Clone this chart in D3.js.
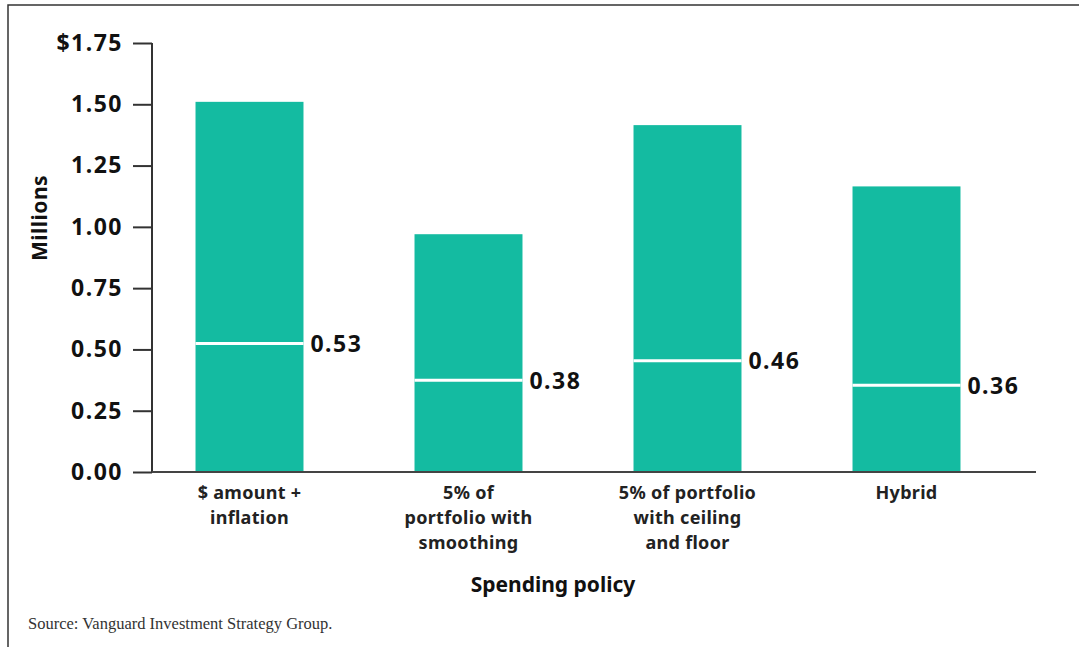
<!DOCTYPE html>
<html>
<head>
<meta charset="utf-8">
<title>Spending policy</title>
<style>
body { margin: 0; background: #fff; }
svg { display: block; }
</style>
</head>
<body>
<div id="chart"></div>
<script src="https://d3js.org/d3.v7.min.js"></script>
<script>
// data
var categories = [["$ amount +", "inflation"], ["5% of", "portfolio with", "smoothing"], ["5% of portfolio", "with ceiling", "and floor"], ["Hybrid"]];
var topValues = [1.51, 0.97, 1.415, 1.165];
var medianValues = [0.53, 0.38, 0.46, 0.36];
var yTicks = [0, 0.25, 0.5, 0.75, 1.0, 1.25, 1.5, 1.75];

var W = 1079, H = 647;
var svg = d3.select("#chart").append("svg").attr("width", W).attr("height", H);

// frame (top and left edges)
svg.append("path")
  .attr("d", "M8,647V5H1079")
  .attr("fill", "none")
  .attr("stroke", "#333")
  .attr("stroke-width", 1.5);

var font = "'Noto Sans', sans-serif";
var teal = "#14bba1";

var y = d3.scaleLinear().domain([0, 1.75]).range([472, 43]);
var x = d3.scaleBand().domain(d3.range(categories.length))
  .range([140, 1016]).paddingInner(0.507).paddingOuter(0.2535);

// bars
svg.append("g").selectAll("rect").data(topValues).enter().append("rect")
  .attr("x", function(d, i) { return x(i); })
  .attr("width", x.bandwidth())
  .attr("y", function(d) { return y(d); })
  .attr("height", function(d) { return y(0) - y(d); })
  .attr("fill", teal);

// median lines
svg.append("g").selectAll("line").data(medianValues).enter().append("line")
  .attr("x1", function(d, i) { return x(i); })
  .attr("x2", function(d, i) { return x(i) + x.bandwidth(); })
  .attr("y1", function(d) { return y(d) + 1.5; })
  .attr("y2", function(d) { return y(d) + 1.5; })
  .attr("stroke", "#fff")
  .attr("stroke-width", 3);

svg.append("g").selectAll("text").data(medianValues).enter().append("text")
  .attr("x", function(d, i) { return x(i) + x.bandwidth() + 7; })
  .attr("y", function(d) { return y(d) + 1.5; })
  .attr("dy", "0.36em")
  .style("font-family", font)
  .style("font-weight", "bold")
  .style("font-size", "23px")
  .style("letter-spacing", "1.5px")
  .attr("fill", "#111")
  .text(function(d) { return d.toFixed(2); });

// y axis
var yAxis = svg.append("g").attr("transform", "translate(152,0)")
  .call(d3.axisLeft(y).tickValues(yTicks).tickSize(19).tickPadding(10)
    .tickFormat(function(d) { return (d === 1.75 ? "$" : "") + d.toFixed(2); }));
yAxis.select(".domain").attr("d", "M0,43V472").attr("stroke", "#333").attr("stroke-width", 2);
yAxis.selectAll(".tick line").attr("stroke", "#333").attr("stroke-width", 2);
yAxis.selectAll(".tick text")
  .style("font-family", font)
  .style("font-weight", "bold")
  .style("font-size", "23px")
  .style("letter-spacing", "1.5px")
  .attr("fill", "#111");

// x axis line
svg.append("line")
  .attr("x1", 152).attr("x2", 1036)
  .attr("y1", y(0)).attr("y2", y(0))
  .attr("stroke", "#444").attr("stroke-width", 2);

// category labels
var cat = svg.append("g").selectAll("text").data(categories).enter().append("text")
  .attr("x", function(d, i) { return x(i) + x.bandwidth() / 2; })
  .attr("y", 499)
  .attr("text-anchor", "middle")
  .style("font-family", font)
  .style("font-weight", "bold")
  .style("font-size", "18px")
  .style("letter-spacing", "0.3px")
  .attr("fill", "#222");
cat.selectAll("tspan").data(function(d) { return d; }).enter().append("tspan")
  .attr("x", function() { return d3.select(this.parentNode).attr("x"); })
  .attr("dy", function(d, i) { return i === 0 ? 0 : 25; })
  .text(function(d) { return d; });

// axis titles
svg.append("text")
  .attr("x", 553).attr("y", 592)
  .attr("text-anchor", "middle")
  .style("font-family", font)
  .style("font-weight", "bold")
  .style("font-size", "21px")
  .attr("fill", "#111")
  .text("Spending policy");

svg.append("text")
  .attr("transform", "translate(47,218) rotate(-90)")
  .attr("text-anchor", "middle")
  .style("font-family", font)
  .style("font-weight", "bold")
  .style("font-size", "21px")
  .style("letter-spacing", "0.5px")
  .attr("fill", "#111")
  .text("Millions");

svg.append("text")
  .attr("x", 28).attr("y", 629)
  .style("font-family", "'Liberation Serif', serif")
  .style("font-size", "16.5px")
  .attr("fill", "#333")
  .text("Source: Vanguard Investment Strategy Group.");
</script>
</body>
</html>
